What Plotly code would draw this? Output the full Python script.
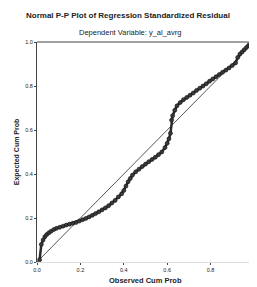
import plotly.graph_objects as go

observed_cum_prob = [0.012, 0.02, 0.028, 0.036, 0.045, 0.055, 0.065, 0.078, 0.09, 0.105,
                     0.12, 0.135, 0.15, 0.165, 0.18, 0.195, 0.21, 0.225, 0.24, 0.255,
                     0.27, 0.285, 0.30, 0.315, 0.33, 0.345, 0.36, 0.375, 0.39, 0.40,
                     0.41, 0.42, 0.43, 0.44, 0.455, 0.47, 0.485, 0.50, 0.515, 0.53,
                     0.545, 0.56, 0.575, 0.59, 0.60, 0.608, 0.615, 0.62, 0.625, 0.635,
                     0.645, 0.66, 0.675, 0.69, 0.705, 0.72, 0.735, 0.75, 0.765, 0.78,
                     0.795, 0.81, 0.825, 0.84, 0.855, 0.87, 0.885, 0.90, 0.915, 0.925,
                     0.935, 0.945, 0.955, 0.965, 0.975, 0.985]
expected_cum_prob = [0.01, 0.08, 0.10, 0.115, 0.125, 0.133, 0.14, 0.148, 0.153, 0.158,
                     0.163, 0.168, 0.172, 0.176, 0.180, 0.186, 0.192, 0.198, 0.205, 0.212,
                     0.22, 0.228, 0.237, 0.246, 0.256, 0.268, 0.28, 0.296, 0.31, 0.325,
                     0.345, 0.365, 0.38, 0.395, 0.41, 0.422, 0.434, 0.445, 0.456, 0.466,
                     0.476, 0.488, 0.50, 0.52, 0.54, 0.56, 0.585, 0.645, 0.665, 0.69,
                     0.71, 0.725, 0.738, 0.748, 0.758, 0.768, 0.78, 0.79, 0.80, 0.81,
                     0.822, 0.832, 0.842, 0.852, 0.862, 0.872, 0.882, 0.893, 0.905, 0.93,
                     0.945, 0.955, 0.965, 0.975, 0.985, 0.99]
ref_line = [0.0, 1.0]
tick_vals = [0.0, 0.2, 0.4, 0.6, 0.8, 1.0]
tick_text = ["0.0", "0.2", "0.4", "0.6", "0.8", "1.0"]

fig = go.Figure()
fig.add_trace(go.Scatter(x=ref_line, y=ref_line, mode="lines",
                         line=dict(color="#555555", width=1), showlegend=False))
fig.add_trace(go.Scatter(x=observed_cum_prob, y=expected_cum_prob, mode="lines+markers",
                         line=dict(color="#2a2a2a", width=2.5),
                         marker=dict(size=4, color="#3a3a3a", line=dict(color="#111111", width=0.6)),
                         showlegend=False))

# page body has an 8px default margin, so the figure is sized to fit inside
fig.update_layout(
    width=249, height=279,
    margin=dict(l=29, r=3, t=34, b=25, autoexpand=False),
    paper_bgcolor="white", plot_bgcolor="white",
    font=dict(family="Liberation Sans, Arial", color="#222222"),
)
fig.add_annotation(text="<b>Normal P-P Plot of Regression Standardized Residual</b>",
                   xref="paper", yref="paper", x=0.42, y=1.0, yanchor="middle", yshift=27,
                   showarrow=False, font=dict(size=8))
fig.add_annotation(text="Dependent Variable: y_al_avrg",
                   xref="paper", yref="paper", x=0.43, y=1.0, yanchor="middle", yshift=10,
                   showarrow=False, font=dict(size=7.5))
fig.add_annotation(text="<b>Observed Cum Prob</b>",
                   xref="paper", yref="paper", x=0.5, y=0.0, yanchor="middle", yshift=-18,
                   showarrow=False, font=dict(size=7.5))

fig.update_xaxes(range=[0, 1], tickvals=tick_vals, ticktext=tick_text,
                 tickfont=dict(size=5.5), ticks="outside", ticklen=2,
                 showgrid=False, zeroline=False, showline=True, automargin=False,
                 linecolor="#dddddd", linewidth=1, mirror=False)
fig.update_yaxes(range=[0, 1], tickvals=tick_vals, ticktext=tick_text,
                 tickfont=dict(size=5.5), ticks="outside", ticklen=2,
                 showgrid=False, zeroline=False, showline=True, automargin=False,
                 linecolor="#444444", linewidth=1,
                 title=dict(text="<b>Expected Cum Prob</b>", font=dict(size=7), standoff=4))
fig.add_shape(type="line", xref="paper", yref="paper", x0=0, x1=1, y0=1, y1=1,
              line=dict(color="#444444", width=1))
fig.add_shape(type="line", xref="paper", yref="paper", x0=1, x1=1, y0=0, y1=1,
              line=dict(color="#dddddd", width=1))

fig.write_html("out.html")
